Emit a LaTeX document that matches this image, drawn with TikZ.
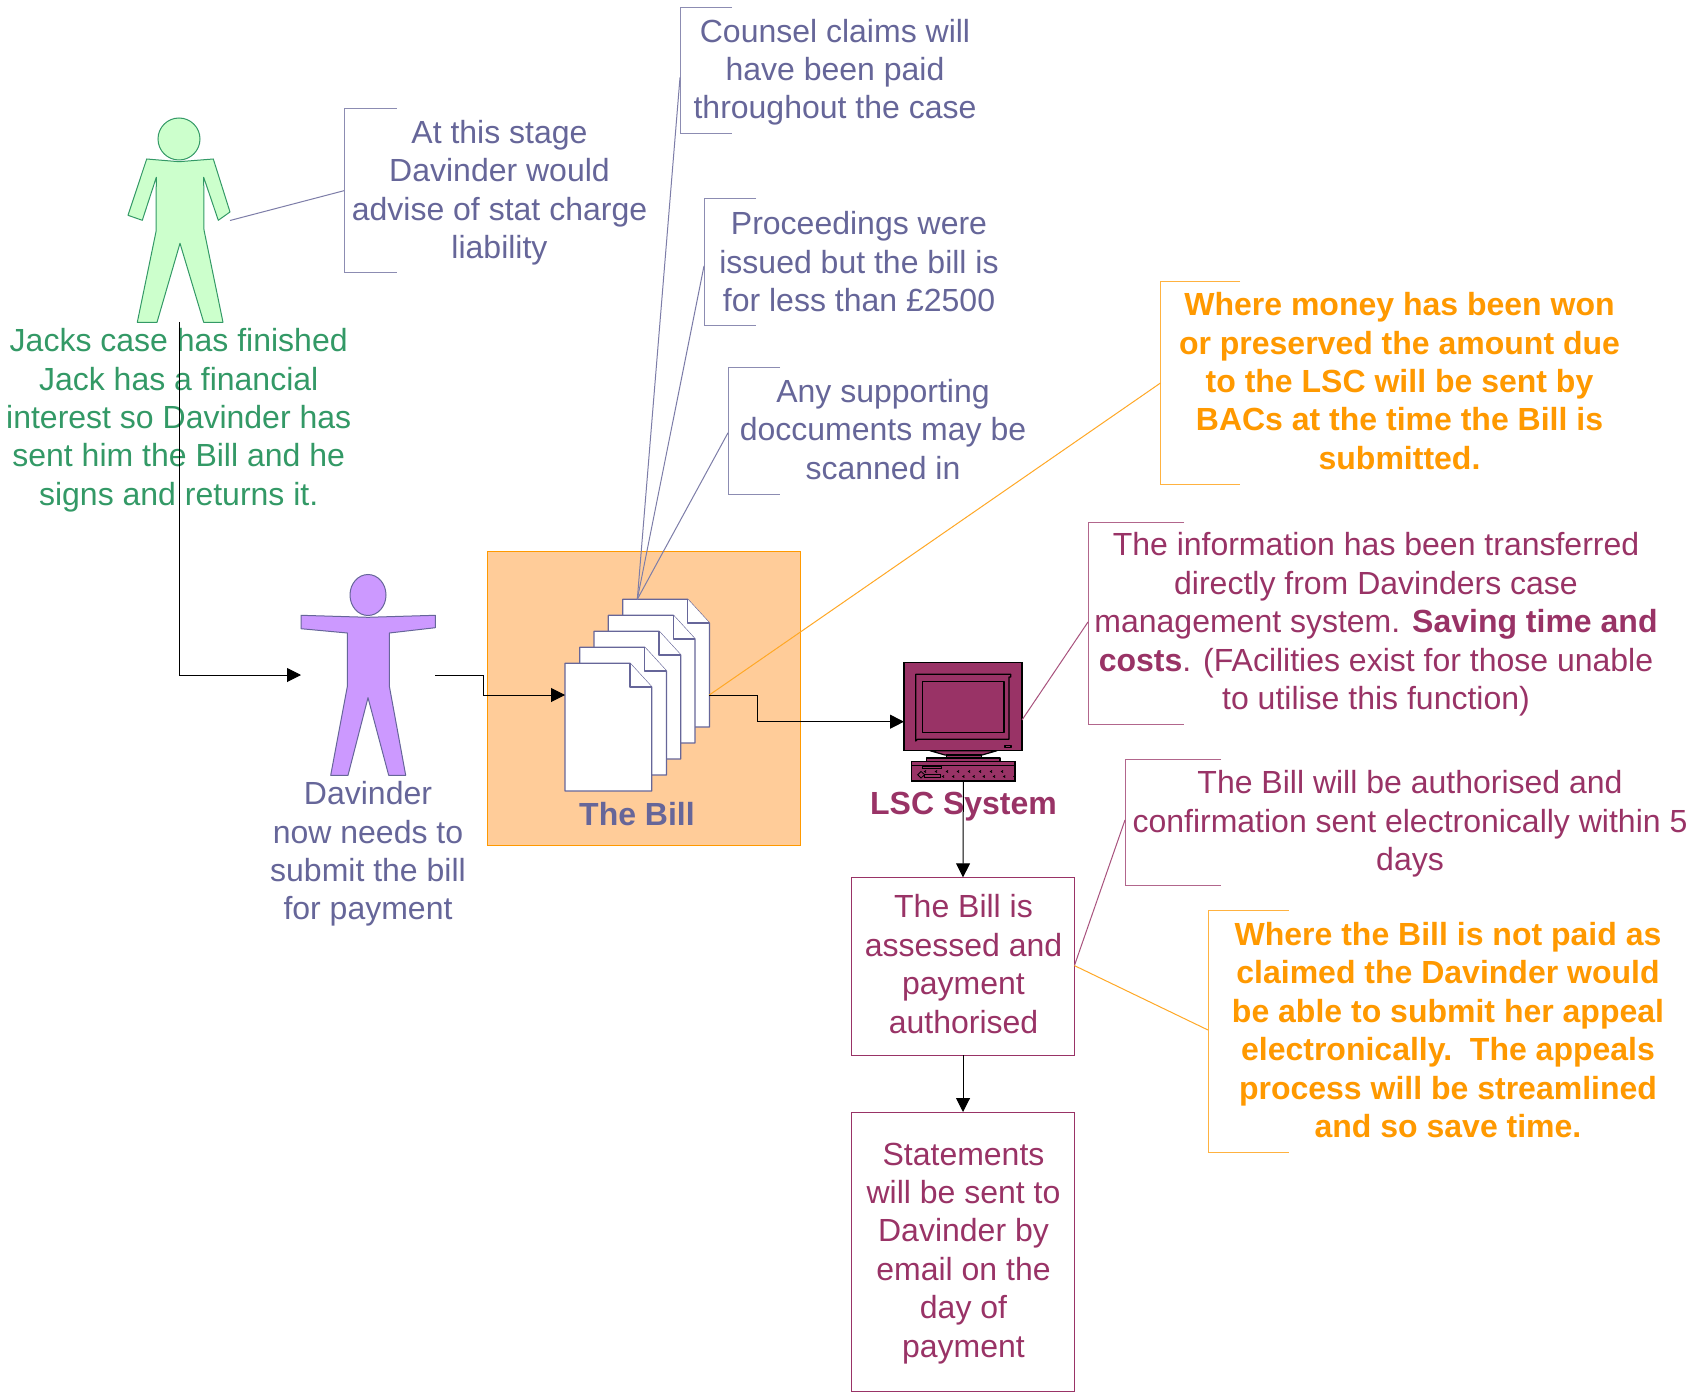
\documentclass[tikz,border=0pt]{standalone}
\usepackage{fontspec}
\setmainfont{Liberation Sans}
\usetikzlibrary{arrows.meta,shapes.geometric}
\definecolor{cBlue}{HTML}{666699}
\definecolor{cGreen}{HTML}{339966}
\definecolor{cMaroon}{HTML}{993366}
\definecolor{cOrange}{HTML}{FF9900}
\definecolor{cBillBg}{HTML}{FFCC99}
\definecolor{cManG}{HTML}{CCFFCC}
\definecolor{cManP}{HTML}{CC99FF}
\tikzset{
  txt/.style={align=center,inner sep=0pt,outer sep=0pt,font=\fontsize{24}{28.8}\selectfont},
  txtb/.style={align=center,inner sep=0pt,outer sep=0pt,font=\fontsize{24}{28.8}\selectfont\bfseries},
  box/.style={draw=#1,line width=.75pt,inner sep=0pt,outer sep=0pt},
  bracket/.style={draw=#1!75,line width=.75pt},
  lead/.style={draw=#1!85,line width=.75pt},
  flow/.style={draw=black,line width=.75pt,-{Triangle[length=10.5pt,width=10.5pt]}},
  docpage/.style={draw=cBlue,line width=.9pt,fill=white,line join=round},
  pc/.style={draw=black,line width=.9pt,fill=cMaroon,line join=round}
}
% \dpage{name}{left}{top}
\newcommand{\dpage}[3]{%
  \node[inner sep=0pt,outer sep=0pt,minimum width=86.7*.75pt,minimum height=127.7*.75pt] (#1) at (#2+43.35,#3+63.85) {};
  \draw[docpage] (#2,#3) -- (#2+65,#3) -- (#2+86.7,#3+23.7) -- (#2+86.7,#3+127.7) -- (#2,#3+127.7) -- cycle;
  \draw[docpage] (#2+65,#3) -- (#2+65,#3+23.7) -- (#2+86.7,#3+23.7);
}
\begin{document}
\begin{tikzpicture}[x=.75pt,y=-.75pt]
\clip (0,0) rectangle (1688,1394);
\fill[white] (0,0) rectangle (1688,1394);

% The Bill panel
\node[box=cOrange,fill=cBillBg,minimum width=312.7*.75pt,minimum height=294*.75pt] (billbox) at (643.65,698) {};

% documents
\dpage{d5}{622.7}{599.3}
\dpage{d4}{608.3}{615.3}
\dpage{d3}{594}{631.3}
\dpage{d2}{579.7}{647.3}
\dpage{d1}{565}{663.3}
\coordinate (docTop) at (637.3,599.3);
\coordinate (docOut) at (709.3,695);
\coordinate (docIn) at (565,695);
\node[txtb,text=cBlue] (billlabel) at (637,814) {The Bill};

% green man
\node[circle,draw=cGreen,fill=cManG,line width=.75pt,minimum size=42*.75pt,inner sep=0pt] (jackhead) at (179,139) {};
\draw[draw=cGreen,fill=cManG,line width=.75pt,line join=round]
 (146.7,159) -- (179,161.7) -- (213.3,159) -- (230,212) -- (218.3,220.3) -- (203.7,177.3) -- (204,230) -- (223,322.3) -- (203.7,322.3) -- (180,243.3) -- (157,322.3) -- (137.3,322.3) -- (156,231.7) -- (156.3,177.3) -- (142.3,220.3) -- (128,215.3) -- cycle;
\coordinate (jackFoot) at (179,322);
\coordinate (jackHand) at (230,220.5);
\node[txt,text=cGreen] (jacktext) at (178.7,420.2) {Jacks case has finished\\Jack has a financial\\interest so Davinder has\\sent him the Bill and he\\signs and returns it.};

% purple man
\node[ellipse,draw=cBlue,fill=cManP,line width=.75pt,minimum width=36*.75pt,minimum height=41*.75pt,inner sep=0pt] (davhead) at (368,595) {};
\draw[draw=cBlue,fill=cManP,line width=.75pt,line join=round]
 (301,615.3) -- (368,617.3) -- (435.3,615.3) -- (435.3,627.7) -- (389.3,633) -- (389.3,686) -- (405.7,775.3) -- (388.7,775.3) -- (368,697.7) -- (348,775.3) -- (330.7,775.3) -- (347.3,686.7) -- (347.3,633) -- (301,628.7) -- cycle;
\coordinate (davIn) at (301,675);
\coordinate (davOut) at (435,675);
\node[txt,text=cBlue] (davtext) at (368,854) {Davinder\\now needs to\\submit the bill\\for payment};

% computer
\node[inner sep=0pt,outer sep=0pt,minimum width=118*.75pt,minimum height=88*.75pt,fill=cMaroon,draw=black,line width=.9pt] (monitor) at (963,706.7) {};
\draw[pc] (915.7,674.3) -- (1010.7,674.3) -- (1010.7,677) -- (1009,677) -- (1009,739.3) -- (917.5,739.3) -- (915.7,741) -- cycle;
\draw[pc] (922.7,681.3) rectangle (1004,732.3);
\draw[pc] (1005,745.3) rectangle (1011,747.7);
\draw[pc] (930,750.7) -- (945,755) -- (982,755) -- (997,750.7) -- cycle;
\draw[pc] (946.7,755) rectangle (981.7,758);
\draw[pc] (926.7,758) rectangle (1000,761.7);
\node[inner sep=0pt,outer sep=0pt,minimum width=103.3*.75pt,minimum height=19.3*.75pt,fill=cMaroon,draw=black,line width=.9pt] (keyboard) at (963.35,771.35) {};
\draw[black,line width=.6pt] (911.7,765) -- (1015,765);
\draw[black,line width=.6pt] (922.3,766) rectangle (941,768.5);
\draw[black,line width=.6pt] (917.7,774.7) -- (921,771.5) -- (924.7,774.7) -- (921,778) -- cycle;
\draw[black,line width=.6pt] (924.5,774.7) rectangle (940,777.3);
\foreach \i in {0,...,7} {
  \draw[black,line width=.7pt] (926+\i*11,770.5) -- (924.5+\i*11,771.5) -- (926+\i*11,772.5);
  \draw[black,line width=.7pt] (944+\i*10.2,775.5) -- (942.5+\i*10.2,776.5) -- (944+\i*10.2,777.5);
}
\coordinate (pcIn) at (904,721.7);
\coordinate (pcOut) at (1022,720);
\node[txtb,text=cMaroon] (lsclabel) at (963.5,806.2) {LSC System};

% maroon boxes
\node[box=cMaroon,minimum width=222.9*.75pt,minimum height=177.7*.75pt] (assess) at (963,966.15) {};
\node[txt,text=cMaroon] (assesstext) at (963.5,964) {The Bill is\\assessed and\\payment\\authorised};
\node[box=cMaroon,minimum width=222.9*.75pt,minimum height=279*.75pt] (statement) at (963,1251.5) {};
\node[txt,text=cMaroon] (statementtext) at (963.5,1253.2) {Statements\\will be sent to\\Davinder by\\email on the\\day of\\payment};
\coordinate (assessR) at (1074.4,965.6);

% callout brackets
\draw[bracket=cBlue] (396.7,108.3) -- (344,108.3) -- (344,272.7) -- (396.7,272.7);
\coordinate (c1) at (344,190.7);
\node[txt,text=cBlue] (c1t) at (499.5,192.7) {At this stage\\Davinder would\\advise of stat charge\\liability};

\draw[bracket=cBlue] (732,7.5) -- (680,7.5) -- (680,133.5) -- (732,133.5);
\coordinate (c2) at (680,77.5);
\node[txt,text=cBlue] (c2t) at (835,72.2) {Counsel claims will\\have been paid\\throughout the case};

\draw[bracket=cBlue] (756,199) -- (704,199) -- (704,326) -- (756,326);
\coordinate (c3) at (704,266);
\node[txt,text=cBlue] (c3t) at (859,261.6) {Proceedings were\\issued but the bill is\\for less than £2500};

\draw[bracket=cBlue] (780,368) -- (728,368) -- (728,494) -- (780,494);
\coordinate (c4) at (728,432.8);
\node[txt,text=cBlue] (c4t) at (883,429.5) {Any supporting\\doccuments may be\\scanned in};

\draw[bracket=cOrange] (1240,282) -- (1160.5,282) -- (1160.5,484.4) -- (1240,484.4);
\coordinate (c5) at (1160.5,383);
\node[txtb,text=cOrange] (c5t) at (1399.5,381) {Where money has been won\\or preserved the amount due\\to the LSC will be sent by\\BACs at the time the Bill is\\submitted.};

\draw[bracket=cMaroon] (1184,522) -- (1088,522) -- (1088,724.5) -- (1184,724.5);
\coordinate (c6) at (1088,622);
\node[txt,text=cMaroon] (c6t) at (1376,624.5) {The information has been transferred\\directly from Davinders case\\management system. \textbf{Saving time and}\\\textbf{costs}. (FAcilities exist for those unable\\to utilise this function)};

\draw[bracket=cMaroon] (1221,759) -- (1125,759) -- (1125,885) -- (1221,885);
\coordinate (c7) at (1125,820);
\node[txt,text=cMaroon] (c7t) at (1410,823.8) {The Bill will be authorised and\\confirmation sent electronically within 5\\days};

\draw[bracket=cOrange] (1288.6,910.7) -- (1208,910.7) -- (1208,1152) -- (1288.6,1152);
\coordinate (c8) at (1208,1030);
\node[txtb,text=cOrange] (c8t) at (1448,1030) {Where the Bill is not paid as\\claimed the Davinder would\\be able to submit her appeal\\electronically.\ \ The appeals\\process will be streamlined\\and so save time.};

% leader lines
\draw[lead=cBlue] (jackHand) -- (c1);
\draw[lead=cBlue] (docTop) -- (c2);
\draw[lead=cBlue] (docTop) -- (c3);
\draw[lead=cBlue] (docTop) -- (c4);
\draw[lead=cOrange] (docOut) -- (c5);
\draw[lead=cMaroon] (pcOut) -- (c6);
\draw[lead=cMaroon] (assessR) -- (c7);
\draw[lead=cOrange] (assessR) -- (c8);

% flow connectors
\draw[flow] (jackFoot) |- (davIn);
\draw[flow] (davOut) -- (483,675) |- (docIn);
\draw[flow] (docOut) -- (757.3,695) |- (pcIn);
\draw[flow] (keyboard.south) -- (assess.north);
\draw[flow] (assess.south) -- (statement.north);
\end{tikzpicture}
\end{document}
